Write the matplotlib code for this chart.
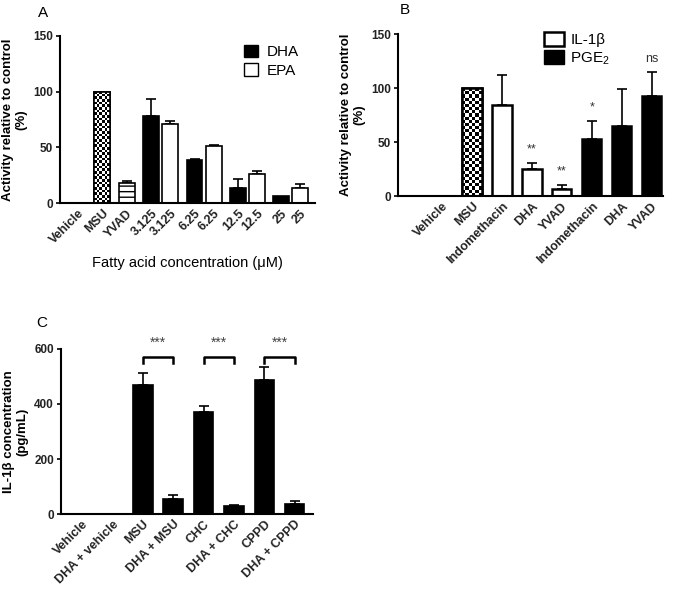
import matplotlib
matplotlib.use("Agg")
import matplotlib.pyplot as plt
from matplotlib.patches import Patch
import numpy as np

plt.rcParams["font.family"] = ["Liberation Sans", "DejaVu Sans"]
plt.rcParams["mathtext.fontset"] = "custom"
plt.rcParams["mathtext.rm"] = "Liberation Sans"
plt.rcParams["hatch.linewidth"] = 1.0

# ---- panel A data
a_labels = ["Vehicle", "MSU", "YVAD", "3.125", "3.125", "6.25", "6.25",
            "12.5", "12.5", "25", "25"]
a_values = [0, 100, 18, 78.5, 71, 38.5, 51.5, 13.5, 26, 6.5, 13.5]
a_err_top = [0, 100, 19.5, 93.5, 73.5, 40, 52.5, 22, 29, 6.5, 17.5]
a_kind = ["none", "checker", "lines", "DHA", "EPA", "DHA", "EPA",
          "DHA", "EPA", "DHA", "EPA"]

# ---- panel B data
b_labels = ["Vehicle", "MSU", "Indomethacin", "DHA", "YVAD",
            "Indomethacin", "DHA", "YVAD"]
b_values = [0, 100, 84, 25, 7, 52.5, 64.5, 93]
b_err_top = [0, 100, 112, 30.5, 10.5, 70, 99, 114.5]
b_kind = ["none", "checker", "IL", "IL", "IL", "PGE", "PGE", "PGE"]
b_marks = ["", "", "", "**", "**", "*", "", "ns"]

# ---- panel C data
c_labels = ["Vehicle", "DHA + vehicle", "MSU", "DHA + MSU", "CHC",
            "DHA + CHC", "CPPD", "DHA + CPPD"]
c_values = [0, 0, 468, 56, 371, 28, 487, 36]
c_err_top = [0, 0, 514, 69, 393, 34, 533, 46]
c_pairs = [(2, 3), (4, 5), (6, 7)]

TICK_Y = 8.5
TICK_X = 9
YLABEL = 9.5


def style_axis(ax):
    ax.spines["top"].set_visible(False)
    ax.spines["right"].set_visible(False)
    ax.spines["left"].set_linewidth(1.5)
    ax.spines["bottom"].set_linewidth(1.5)
    ax.tick_params(axis="y", labelsize=TICK_Y, width=1.2, length=3, pad=2)
    ax.tick_params(axis="x", length=0, labelsize=TICK_X, pad=3)
    for t in ax.get_xticklabels() + ax.get_yticklabels():
        t.set_fontweight("bold")
        t.set_color("#222222")


def checker(ax, bar, ncols=6):
    x0, w, h = bar.get_x(), bar.get_width(), bar.get_height()
    p0 = ax.transData.transform((x0, 0))
    p1 = ax.transData.transform((x0 + w, h))
    cell = (p1[0] - p0[0]) / ncols
    nrows = max(1, int(round((p1[1] - p0[1]) / cell)))
    grid = (np.add.outer(np.arange(nrows), np.arange(ncols)) % 2).astype(float)
    im = ax.imshow(grid, cmap="gray", extent=(x0, x0 + w, 0, h),
                   interpolation="nearest", aspect="auto", zorder=2)
    im.set_clip_path(bar)


def upper_err(ax, xs, vals, tops):
    xs = np.asarray(xs, float)
    vals = np.asarray(vals, float)
    tops = np.asarray(tops, float)
    keep = tops > vals
    ax.errorbar(xs[keep], vals[keep], yerr=[np.zeros(keep.sum()), (tops - vals)[keep]],
                fmt="none", ecolor="black", elinewidth=1.2, capsize=3.5,
                capthick=1.2, zorder=1)


fig = plt.figure(figsize=(6.75, 5.89), dpi=100)

# ================= panel A
axA = fig.add_axes([0.089, 0.655, 0.378, 0.284])
a_x = [0, 1, 2]
for i in range(4):
    a_x += [3 + 1.77 * i, 3.78 + 1.77 * i]
axA.set_xlim(-0.72, 9.7)
axA.set_ylim(0, 150)
upper_err(axA, a_x, a_values, a_err_top)
for x, v, k in zip(a_x, a_values, a_kind):
    if k == "none":
        continue
    face = "black" if k == "DHA" else "white"
    hatch = "---" if k == "lines" else None
    b = axA.bar(x, v, width=0.65, color=face, edgecolor="black",
                linewidth=1.2, hatch=hatch, zorder=2)[0]
    if k == "checker":
        checker(axA, b)
        axA.bar(x, v, width=0.65, fill=False, edgecolor="black",
                linewidth=1.2, zorder=3)
axA.set_yticks([0, 50, 100, 150])
axA.set_xticks(a_x)
axA.set_xticklabels(a_labels, rotation=45, ha="right", rotation_mode="anchor")
style_axis(axA)
axA.set_ylabel("Activity relative to control\n(%)", fontsize=YLABEL,
               fontweight="bold", labelpad=4)
axA.set_xlabel("Fatty acid concentration (\u03bcM)", fontsize=10.5, labelpad=7)
axA.legend(handles=[Patch(facecolor="black", edgecolor="black", label="DHA"),
                    Patch(facecolor="white", edgecolor="black", label="EPA")],
           loc="upper right", bbox_to_anchor=(0.99, 1.03), frameon=False,
           fontsize=11, handlelength=0.9, handleheight=0.9,
           handletextpad=0.6, labelspacing=0.25)
fig.text(0.064, 0.978, "A", fontsize=11, ha="center", va="center")

# ================= panel B
axB = fig.add_axes([0.5896, 0.667, 0.3924, 0.275])
b_x = list(range(len(b_labels)))
axB.set_xlim(-1.47, 7.37)
axB.set_ylim(0, 150)
upper_err(axB, b_x, b_values, b_err_top)
for x, v, k in zip(b_x, b_values, b_kind):
    if k == "none":
        continue
    face = "black" if k == "PGE" else "white"
    b = axB.bar(x, v, width=0.64, color=face, edgecolor="black",
                linewidth=1.8, zorder=2)[0]
    if k == "checker":
        checker(axB, b)
        axB.bar(x, v, width=0.64, fill=False, edgecolor="black",
                linewidth=1.8, zorder=3)
for x, t, m in zip(b_x, b_err_top, b_marks):
    if m:
        axB.text(x, t + 7, m, ha="center", va="bottom", fontsize=9,
                 color="#333333")
axB.set_yticks([0, 50, 100, 150])
axB.set_xticks(b_x)
axB.set_xticklabels(b_labels, rotation=45, ha="right", rotation_mode="anchor")
style_axis(axB)
axB.set_ylabel("Activity relative to control\n(%)", fontsize=YLABEL,
               fontweight="bold", labelpad=4)
axB.legend(handles=[Patch(facecolor="white", edgecolor="black", linewidth=1.8,
                          label="IL-1\u03b2"),
                    Patch(facecolor="black", edgecolor="black", label="PGE$_2$")],
           loc="upper left", bbox_to_anchor=(0.5, 1.1), frameon=False,
           fontsize=11, handlelength=1.3, handleheight=1.1,
           handletextpad=0.4, labelspacing=0.15)
fig.text(0.6, 0.983, "B", fontsize=11, ha="center", va="center")

# ================= panel C
axC = fig.add_axes([0.0904, 0.1273, 0.3733, 0.2802])
c_x = list(range(len(c_labels)))
axC.set_xlim(-0.69, 7.6)
axC.set_ylim(0, 600)
upper_err(axC, c_x, c_values, c_err_top)
axC.bar(c_x, c_values, width=0.64, color="black", edgecolor="black",
        linewidth=1.2, zorder=2)
for i, j in c_pairs:
    axC.plot([c_x[i], c_x[i], c_x[j], c_x[j]], [549, 571, 571, 549],
             color="black", lw=1.8, clip_on=False)
    axC.text((c_x[i] + c_x[j]) / 2, 598, "***", ha="center", va="bottom",
             fontsize=10, color="#444444")
axC.set_yticks([0, 200, 400, 600])
axC.set_xticks(c_x)
axC.set_xticklabels(c_labels, rotation=45, ha="right", rotation_mode="anchor")
style_axis(axC)
axC.set_ylabel("IL-1\u03b2 concentration\n(pg/mL)", fontsize=YLABEL,
               fontweight="bold", labelpad=4)
fig.text(0.062, 0.452, "C", fontsize=11, ha="center", va="center")

fig.savefig("out.png", dpi=100)
